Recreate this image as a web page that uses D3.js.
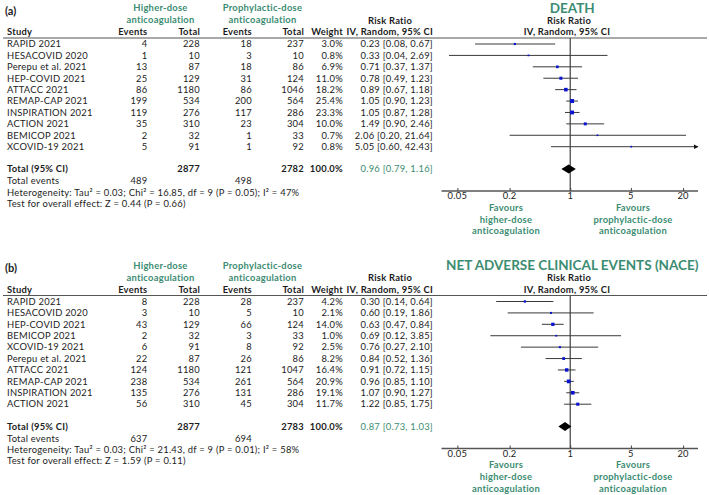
<!DOCTYPE html>
<html><head><meta charset="utf-8">
<script src="https://cdn.jsdelivr.net/npm/d3@7"></script>
<style>
html,body{margin:0;padding:0;background:#fff;}
svg{display:block;font-family:Lato,"Open Sans",sans-serif;}
</style></head>
<body>
<svg id="chart" width="709" height="495"></svg>
<script>
// ---------- DATA ----------
const tickValues = [0.05, 0.2, 1, 5, 20];
const tickLabels = ["0.05", "0.2", "1", "5", "20"];

// Panel (a) DEATH
const deathStudies = ["RAPID 2021","HESACOVID 2020","Perepu et al. 2021","HEP-COVID 2021","ATTACC 2021","REMAP-CAP 2021","INSPIRATION 2021","ACTION 2021","BEMICOP 2021","XCOVID-19 2021"];
const deathEventsHigh = [4,1,13,25,86,199,119,35,2,5];
const deathTotalHigh = [228,10,87,129,1180,534,276,310,32,91];
const deathEventsProph = [18,3,18,31,86,200,117,23,1,1];
const deathTotalProph = [237,10,86,124,1046,564,286,304,33,92];
const deathWeight = [3.0,0.8,6.9,11.0,18.2,25.4,23.3,10.0,0.7,0.8];
const deathRR = [0.23,0.33,0.71,0.78,0.89,1.05,1.05,1.49,2.06,5.05];
const deathLo = [0.08,0.04,0.37,0.49,0.67,0.90,0.87,0.90,0.20,0.60];
const deathHi = [0.67,2.69,1.37,1.23,1.18,1.23,1.28,2.46,21.64,42.43];
const deathTotal = {nHigh:2877, nProph:2782, evHigh:489, evProph:498, rr:0.96, lo:0.79, hi:1.16,
  het:"Heterogeneity: Tau² = 0.03; Chi² = 16.85, df = 9 (P = 0.05); I² = 47%",
  test:"Test for overall effect: Z = 0.44 (P = 0.66)"};

// Panel (b) NACE
const naceStudies = ["RAPID 2021","HESACOVID 2020","HEP-COVID 2021","BEMICOP 2021","XCOVID-19 2021","Perepu et al. 2021","ATTACC 2021","REMAP-CAP 2021","INSPIRATION 2021","ACTION 2021"];
const naceEventsHigh = [8,3,43,2,6,22,124,238,135,56];
const naceTotalHigh = [228,10,129,32,91,87,1180,534,276,310];
const naceEventsProph = [28,5,66,3,8,26,121,261,131,45];
const naceTotalProph = [237,10,124,33,92,86,1047,564,286,304];
const naceWeight = [4.2,2.1,14.0,1.0,2.5,8.2,16.4,20.9,19.1,11.7];
const naceRR = [0.30,0.60,0.63,0.69,0.76,0.84,0.91,0.96,1.07,1.22];
const naceLo = [0.14,0.19,0.47,0.12,0.27,0.52,0.72,0.85,0.90,0.85];
const naceHi = [0.64,1.86,0.84,3.85,2.10,1.36,1.15,1.10,1.27,1.75];
const naceTotal = {nHigh:2877, nProph:2783, evHigh:637, evProph:694, rr:0.87, lo:0.73, hi:1.03,
  het:"Heterogeneity: Tau² = 0.03; Chi² = 21.43, df = 9 (P = 0.01); I² = 58%",
  test:"Test for overall effect: Z = 1.59 (P = 0.11)"};

// ---------- DRAW ----------
const GREEN = "#3c8c72", TXT = "#1c1c1c", BLUE = "#0a14d0", LINE = "#3a3a3a";
const FS = 9.4, LS = 0.25;
const svg = d3.select("#chart");
const fmt2 = d3.format(".2f");
const x = d3.scaleLog().domain([0.0328, 29.7]).range([441.5, 698]);
const sq = d3.scaleLinear().domain([0, 5.04]).range([1.2, 4.0]); // side from sqrt(weight)

const defs = svg.append("defs");
defs.append("marker").attr("id","arrow").attr("viewBox","0 0 10 10").attr("refX",9).attr("refY",5)
  .attr("markerWidth",5).attr("markerHeight",5).attr("orient","auto")
  .append("path").attr("d","M0,0L10,5L0,10Z").attr("fill","#111");

function ci(r, lo, hi){ return fmt2(r)+" ["+fmt2(lo)+", "+fmt2(hi)+"]"; }

function drawPanel(oy, label, title, studies, eH, nH, eP, nP, w, rr, lo, hi, tot){
  const g = svg.append("g").attr("transform", `translate(0,${oy})`);
  const t = (xx, yy, s, o={}) => g.append("text").attr("x",xx).attr("y",yy).attr("dy","0.35em")
     .attr("font-size", o.size||FS).attr("font-weight", o.bold?"bold":"normal")
     .attr("letter-spacing", o.ls===undefined?LS:o.ls)
     .attr("fill", o.color||TXT).attr("text-anchor", o.anchor||"start").text(s);

  t(5, 11, label, {bold:true, size:11, ls:0});
  t(160.5, 8, "Higher-dose", {bold:true, color:GREEN, anchor:"middle"});
  t(160.5, 20, "anticoagulation", {bold:true, color:GREEN, anchor:"middle"});
  t(262.5, 8, "Prophylactic-dose", {bold:true, color:GREEN, anchor:"middle"});
  t(262.5, 20, "anticoagulation", {bold:true, color:GREEN, anchor:"middle"});
  g.append("text").attr("x", x(1)+2).attr("y", 12.6).attr("font-size", 13.5).attr("font-weight","bold")
    .attr("fill", GREEN).attr("text-anchor","middle").text(title);

  t(7, 32, "Study", {bold:true});
  t(147.5, 32, "Events", {bold:true, anchor:"end"});
  t(200, 32, "Total", {bold:true, anchor:"end"});
  t(252, 32, "Events", {bold:true, anchor:"end"});
  t(304, 32, "Total", {bold:true, anchor:"end"});
  t(343, 32, "Weight", {bold:true, anchor:"end"});
  t(390, 20.5, "Risk Ratio", {bold:true, anchor:"middle"});
  t(433, 32, "IV, Random, 95% CI", {bold:true, anchor:"end"});
  t(569, 20.5, "Risk Ratio", {bold:true, anchor:"middle"});
  t(567, 32, "IV, Random, 95% CI", {bold:true, anchor:"middle"});

  g.append("line").attr("x1",3).attr("x2",707).attr("y1",38).attr("y2",38)
    .attr("stroke","#555").attr("stroke-width",1.2);

  const y = d3.scaleLinear().domain([0,1]).range([44, 44+11.41]);
  const axisY = 191;

  // vertical line at 1
  g.append("line").attr("x1",x(1)).attr("x2",x(1)).attr("y1",38).attr("y2",axisY)
    .attr("stroke","#5a5a5a").attr("stroke-width",1.4);

  studies.forEach((s,i)=>{
    const yy = y(i);
    t(7, yy, s);
    t(147.5, yy, eH[i], {anchor:"end"});
    t(200, yy, nH[i], {anchor:"end"});
    t(252, yy, eP[i], {anchor:"end"});
    t(304, yy, nP[i], {anchor:"end"});
    t(343, yy, w[i].toFixed(1)+"%", {anchor:"end"});
    t(433, yy, ci(rr[i],lo[i],hi[i]), {anchor:"end"});
    const dmax = x.domain()[1];
    const over = hi[i] > dmax;
    const ln = g.append("line").attr("x1", x(lo[i])).attr("x2", over ? x(dmax) : x(hi[i]))
      .attr("y1", yy).attr("y2", yy).attr("stroke", LINE).attr("stroke-width", 1);
    if (over) ln.attr("marker-end","url(#arrow)");
    const side = sq(Math.sqrt(w[i]));
    g.append("rect").attr("x", x(rr[i])-side/2).attr("y", yy-side/2)
      .attr("width", side).attr("height", side).attr("fill", BLUE);
  });

  const yt = y(11) - 0.5;
  t(7, yt, "Total (95% CI)", {bold:true});
  t(200, yt, tot.nHigh, {bold:true, anchor:"end"});
  t(304, yt, tot.nProph, {bold:true, anchor:"end"});
  t(343, yt, "100.0%", {bold:true, anchor:"end"});
  t(433, yt, ci(tot.rr, tot.lo, tot.hi), {color:GREEN, anchor:"end"});
  const dh = 4.5;
  g.append("path").attr("d", `M${x(tot.lo)},${yt}L${x(tot.rr)},${yt-dh}L${x(tot.hi)},${yt}L${x(tot.rr)},${yt+dh}Z`)
    .attr("fill","#000");

  t(7, 181, "Total events");
  t(147.5, 181, tot.evHigh, {anchor:"end"});
  t(252, 181, tot.evProph, {anchor:"end"});
  t(7, 192.3, tot.het);
  t(7, 203.6, tot.test);

  // axis
  const ax = g.append("g").attr("transform", `translate(0,${axisY})`);
  ax.append("line").attr("x1", x.range()[0]).attr("x2", x.range()[1]).attr("y1",0).attr("y2",0)
    .attr("stroke","#555").attr("stroke-width",1.4);
  const axis = d3.axisTop(x).tickValues(tickValues).tickFormat("").tickSize(3).tickSizeOuter(0);
  ax.call(axis);
  ax.select(".domain").remove();
  ax.selectAll(".tick line").attr("stroke","#444");
  tickValues.forEach((v,i)=>{
    t(x(v), axisY + 5.2, tickLabels[i], {anchor:"middle"});
  });

  [["Favours","higher-dose","anticoagulation",506],["Favours","prophylactic-dose","anticoagulation",633]]
    .forEach(a=>{
      t(a[3], 207.6, a[0], {bold:true, color:GREEN, anchor:"middle"});
      t(a[3], 219.3, a[1], {bold:true, color:GREEN, anchor:"middle"});
      t(a[3], 231, a[2], {bold:true, color:GREEN, anchor:"middle"});
    });
}

drawPanel(0, "(a)", "DEATH", deathStudies, deathEventsHigh, deathTotalHigh, deathEventsProph, deathTotalProph,
  deathWeight, deathRR, deathLo, deathHi, deathTotal);
drawPanel(257.5, "(b)", "NET ADVERSE CLINICAL EVENTS (NACE)", naceStudies, naceEventsHigh, naceTotalHigh, naceEventsProph, naceTotalProph,
  naceWeight, naceRR, naceLo, naceHi, naceTotal);
</script>
</body></html>
